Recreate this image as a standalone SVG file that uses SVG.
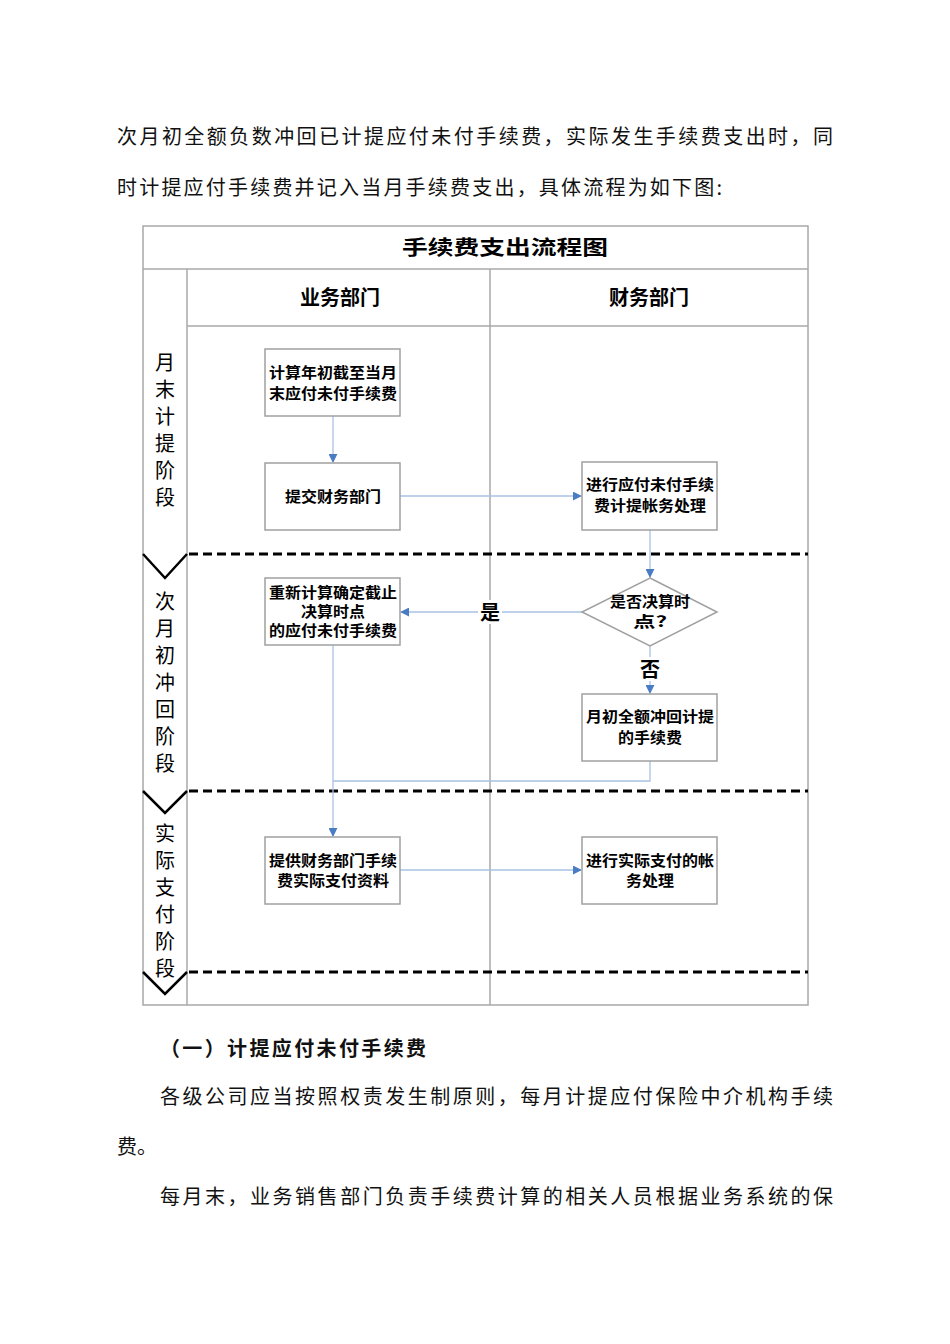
<svg xmlns="http://www.w3.org/2000/svg" width="950" height="1344" viewBox="0 0 950 1344">
<defs>
<style>
.body{font-family:"Noto Sans CJK SC","Noto Sans CJK JP",sans-serif;font-size:20px;fill:#111}
.frame{fill:none;stroke:#a8a8a8;stroke-width:1.5}
.box{fill:#fff;stroke:#a0a0a0;stroke-width:1.5}
.bt{font-family:"Noto Sans CJK SC","Noto Sans CJK JP",sans-serif;font-size:15px;font-weight:bold;fill:#000;text-anchor:middle}
.ph{font-family:"Noto Sans CJK SC","Noto Sans CJK JP",sans-serif;font-size:20px;fill:#000;writing-mode:vertical-rl;letter-spacing:7px}
.hd{font-family:"Noto Sans CJK SC","Noto Sans CJK JP",sans-serif;font-size:20px;font-weight:bold;fill:#000;text-anchor:middle}
.conn{fill:none;stroke:#a9c2e4;stroke-width:1.3}
.dash{stroke:#000;stroke-width:3;stroke-dasharray:9 5;fill:none}
.vee{stroke:#000;stroke-width:2.5;fill:none}
</style>
<marker id="arr" viewBox="0 0 10 10" refX="9" refY="5" markerWidth="9" markerHeight="9" markerUnits="userSpaceOnUse" orient="auto">
<path d="M0,0 L10,5 L0,10 z" fill="#4a7cc4"/>
</marker>
</defs>
<rect width="950" height="1344" fill="#fff"/>

<g id="para-top">
<text class="body" x="117" y="144" textLength="716" lengthAdjust="spacing">次月初全额负数冲回已计提应付未付手续费，实际发生手续费支出时，同</text>
<text class="body" x="117" y="195" textLength="605" lengthAdjust="spacing">时计提应付手续费并记入当月手续费支出，具体流程为如下图:</text>
</g>

<g id="frame">
<rect class="frame" x="143" y="226" width="665" height="779"/>
<line class="frame" x1="143" y1="269" x2="808" y2="269"/>
<line class="frame" x1="187" y1="326" x2="808" y2="326"/>
<line class="frame" x1="187" y1="269" x2="187" y2="1005"/>
<line class="frame" x1="490" y1="269" x2="490" y2="1005"/>
<text class="hd" x="505" y="255" font-size="22" textLength="206" lengthAdjust="spacingAndGlyphs">手续费支出流程图</text>
<text class="hd" x="340" y="305">业务部门</text>
<text class="hd" x="649" y="305">财务部门</text>
</g>

<g id="phases">
<path class="vee" d="M143,554 L165,578 L187,554"/>
<path class="vee" d="M143,791 L165,813 L187,791"/>
<path class="vee" d="M143,972 L165,994 L187,972"/>
<line class="dash" x1="189" y1="554" x2="808" y2="554"/>
<line class="dash" x1="189" y1="791" x2="808" y2="791"/>
<line class="dash" x1="189" y1="972" x2="808" y2="972"/>
</g>
<g id="phase1">
<text class="ph" x="165" y="352">月末计提阶段</text>
</g>
<g id="phase2">
<text class="ph" x="165" y="591">次月初冲回阶段</text>
</g>
<g id="phase3">
<text class="ph" x="165" y="823">实际支付阶段</text>
</g>

<g id="connectors">
<line class="conn" x1="333" y1="416" x2="333" y2="462" marker-end="url(#arr)"/>
<line class="conn" x1="400" y1="496" x2="581" y2="496" marker-end="url(#arr)"/>
<line class="conn" x1="650" y1="530" x2="650" y2="577" marker-end="url(#arr)"/>
<line class="conn" x1="582" y1="612" x2="401" y2="612" marker-end="url(#arr)"/>
<line class="conn" x1="650" y1="646" x2="650" y2="693" marker-end="url(#arr)"/>
<line class="conn" x1="333" y1="645" x2="333" y2="836" marker-end="url(#arr)"/>
<polyline class="conn" points="650,761 650,781 333,781"/>
<line class="conn" x1="400" y1="870" x2="581" y2="870" marker-end="url(#arr)"/>
<rect x="478" y="600" width="24" height="24" fill="#fff"/>
<text class="hd" x="490" y="620" font-size="18">是</text>
<rect x="638" y="657" width="24" height="24" fill="#fff"/>
<text class="hd" x="650" y="677" font-size="18">否</text>
</g>

<g id="n1">
<rect class="box" x="265" y="349" width="135" height="67"/>
<text class="bt" x="333" y="378" font-size="16" textLength="128" lengthAdjust="spacingAndGlyphs">计算年初截至当月</text>
<text class="bt" x="333" y="399" font-size="16" textLength="128" lengthAdjust="spacingAndGlyphs">末应付未付手续费</text>
</g>
<g id="n2">
<rect class="box" x="265" y="463" width="135" height="67"/>
<text class="bt" x="333" y="502" font-size="16" textLength="96" lengthAdjust="spacingAndGlyphs">提交财务部门</text>
</g>
<g id="n3">
<rect class="box" x="582" y="462" width="135" height="68"/>
<text class="bt" x="650" y="490" font-size="16" textLength="128" lengthAdjust="spacingAndGlyphs">进行应付未付手续</text>
<text class="bt" x="650" y="511" font-size="16" textLength="112" lengthAdjust="spacingAndGlyphs">费计提帐务处理</text>
</g>
<g id="n4">
<polygon class="box" points="650,578 717,612 650,646 582,612"/>
<text class="bt" x="650" y="607" font-size="16" textLength="80" lengthAdjust="spacingAndGlyphs">是否决算时</text>
<text class="bt" x="650" y="627" font-size="16" textLength="34" lengthAdjust="spacingAndGlyphs">点?</text>
</g>
<g id="n5">
<rect class="box" x="265" y="578" width="135" height="67"/>
<text class="bt" x="333" y="598" textLength="128" lengthAdjust="spacingAndGlyphs">重新计算确定截止</text>
<text class="bt" x="333" y="617" textLength="64" lengthAdjust="spacingAndGlyphs">决算时点</text>
<text class="bt" x="333" y="636" textLength="128" lengthAdjust="spacingAndGlyphs">的应付未付手续费</text>
</g>
<g id="n6">
<rect class="box" x="582" y="694" width="135" height="67"/>
<text class="bt" x="650" y="722" font-size="16" textLength="128" lengthAdjust="spacingAndGlyphs">月初全额冲回计提</text>
<text class="bt" x="650" y="743" font-size="16" textLength="64" lengthAdjust="spacingAndGlyphs">的手续费</text>
</g>
<g id="n7">
<rect class="box" x="265" y="837" width="135" height="67"/>
<text class="bt" x="333" y="866" font-size="16" textLength="128" lengthAdjust="spacingAndGlyphs">提供财务部门手续</text>
<text class="bt" x="333" y="886" font-size="16" textLength="112" lengthAdjust="spacingAndGlyphs">费实际支付资料</text>
</g>
<g id="n8">
<rect class="box" x="582" y="837" width="135" height="67"/>
<text class="bt" x="650" y="866" font-size="16" textLength="128" lengthAdjust="spacingAndGlyphs">进行实际支付的帐</text>
<text class="bt" x="650" y="886" font-size="16" textLength="48" lengthAdjust="spacingAndGlyphs">务处理</text>
</g>

<g id="para-bottom">
<text class="body" x="160" y="1056" font-weight="bold" textLength="266" lengthAdjust="spacing">（一）计提应付未付手续费</text>
<text class="body" x="160" y="1104" textLength="673" lengthAdjust="spacing">各级公司应当按照权责发生制原则，每月计提应付保险中介机构手续</text>
<text class="body" x="117" y="1154">费。</text>
<text class="body" x="160" y="1204" textLength="673" lengthAdjust="spacing">每月末，业务销售部门负责手续费计算的相关人员根据业务系统的保</text>
</g>
</svg>
